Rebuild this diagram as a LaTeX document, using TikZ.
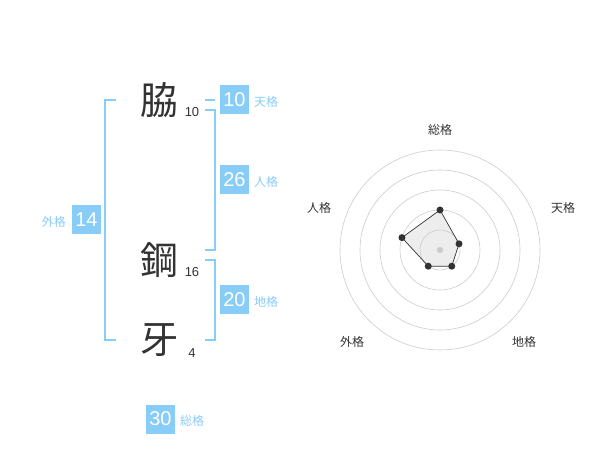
\documentclass[tikz,border=0pt]{standalone}
\usepackage{fontspec}
\setmainfont{Liberation Sans}
\newfontfamily\jp{Noto Sans CJK JP}
\definecolor{sky}{HTML}{88CCF8}
\definecolor{ink}{HTML}{333333}
\definecolor{ring}{HTML}{CCCCCC}
\tikzset{
  kanji/.style={font=\jp\fontsize{38}{38}\selectfont, text=ink, inner sep=0},
  stroke/.style={font=\fontsize{13}{13}\selectfont, text=ink, inner sep=0},
  valbox/.style={fill=sky, text=white, minimum width=29pt, minimum height=29pt, inner sep=0, font=\fontsize{20}{20}\selectfont},
  lab/.style={text=sky, font=\jp\fontsize{12}{12}\selectfont, inner sep=0},
  brk/.style={draw=sky, line width=1.5pt},
  axl/.style={text=ink, font=\jp\fontsize{12}{12}\selectfont, inner sep=0},
  vdot/.style={circle, fill=ink, inner sep=0, minimum size=7pt}
}
\begin{document}
\begin{tikzpicture}[x=1pt,y=-1pt]
\useasboundingbox (0,0) rectangle (600,470);
% name characters
\node[kanji] (k1) at (159,100) {脇};
\node[kanji] (k2) at (159,260) {鋼};
\node[kanji] (k3) at (159,340) {牙};
\node[stroke] (s1) at (192,112) {10};
\node[stroke] (s2) at (192,272) {16};
\node[stroke] (s3) at (192,353) {4};
% brackets
\draw[brk] (116,100) -- (105,100) -- (105,340) -- (116,340);
\draw[brk] (205,100) -- (215,100);
\draw[brk] (205,110) -- (215,110) -- (215,250) -- (205,250);
\draw[brk] (205,260) -- (215,260) -- (215,340) -- (205,340);
% value boxes
\node[valbox] (gai) at (86.5,220) {14};
\node[lab, anchor=east] (gail) at (66,222) {外格};
\node[valbox] (ten) at (234.5,100) {10};
\node[lab, anchor=west] (tenl) at (254,102) {天格};
\node[valbox] (jin) at (234.5,180) {26};
\node[lab, anchor=west] (jinl) at (254,182) {人格};
\node[valbox] (chi) at (234.5,300) {20};
\node[lab, anchor=west] (chil) at (254,302) {地格};
\node[valbox] (sou) at (160.5,419) {30};
\node[lab, anchor=west] (soul) at (180,421) {総格};
% radar chart
\coordinate (c) at (440,250);
\path (c) ++(0,-40) coordinate (pS);
\path (c) ++(19.02,-6.18) coordinate (pT);
\path (c) ++(11.76,16.18) coordinate (pC);
\path (c) ++(-11.76,16.18) coordinate (pG);
\path (c) ++(-38.04,-12.36) coordinate (pJ);
\fill[black!7] (pS) -- (pT) -- (pC) -- (pG) -- (pJ) -- cycle;
\foreach \r in {20,40,60,80,100} \draw[ring, line width=0.6pt] (c) circle[radius=\r];
\draw[ink, line width=0.7pt] (pS) -- (pT) -- (pC) -- (pG) -- (pJ) -- cycle;
\fill[ring] (c) circle[radius=3.2];
\foreach \p in {pS,pT,pC,pG,pJ} \node[vdot] at (\p) {};
\node[axl] (aS) at (440,130) {総格};
\node[axl] (aT) at (563,208) {天格};
\node[axl] (aJ) at (319,208) {人格};
\node[axl] (aC) at (524,342) {地格};
\node[axl] (aG) at (352,342) {外格};
\end{tikzpicture}
\end{document}
